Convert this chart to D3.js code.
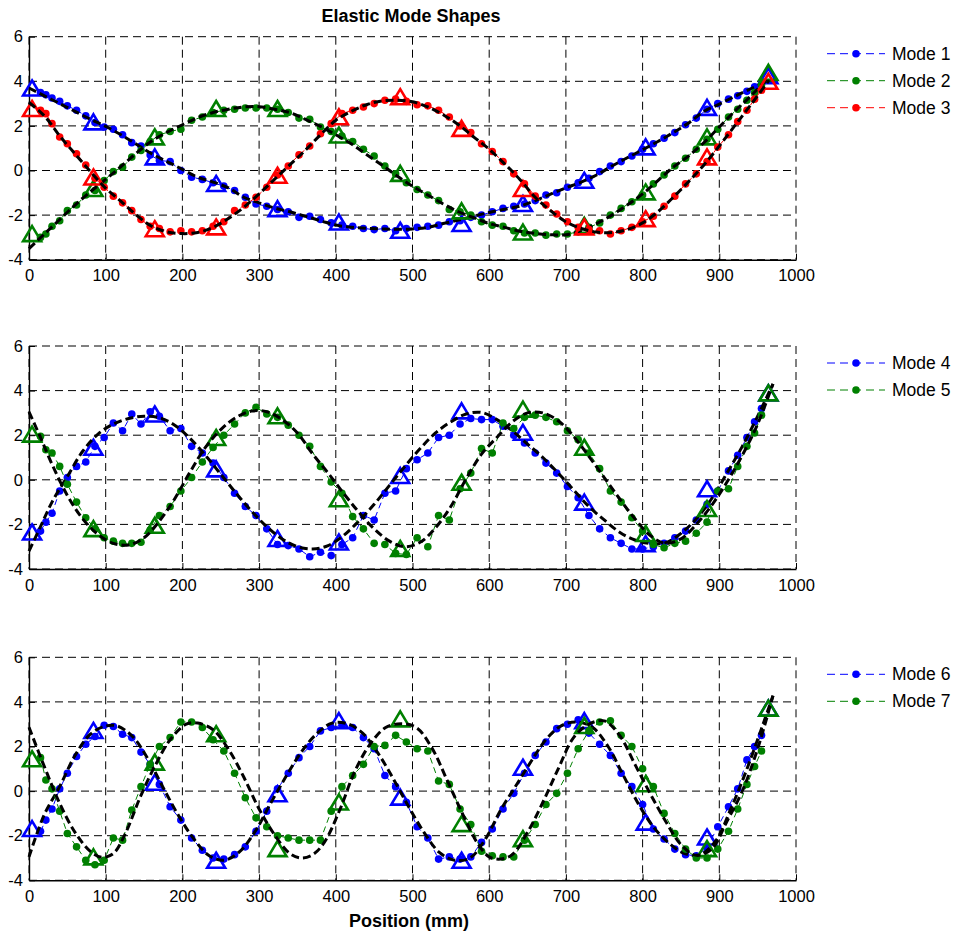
<!DOCTYPE html>
<html><head><meta charset="utf-8">
<script src="https://cdn.jsdelivr.net/npm/d3@7"></script>
<style>
html,body{margin:0;padding:0;background:#fff;}
svg{display:block;font-family:"Liberation Sans",Arial,Helvetica,sans-serif;}
</style></head><body>
<svg id="chart" width="955" height="933"></svg>
<script>
// ---------- DATA ----------
const xTicks = [0,100,200,300,400,500,600,700,800,900,1000];
const yTicks = [-4,-2,0,2,4,6];
const modeNames = ["Mode 1","Mode 2","Mode 3","Mode 4","Mode 5","Mode 6","Mode 7"];

// measured sensor positions (mm)
const dotX = [15,22,30,40,50,62,74,86,98,110,
 122,134,146,158,170,184,198,212,226,240,
 254,268,282,296,310,324,338,352,366,380,
 394,408,422,436,450,464,478,492,506,520,
 534,548,562,576,590,604,618,632,646,660,
 674,688,702,716,730,744,758,772,786,800,
 814,828,842,856,870,884,898,912,924,936,
 946,955];

// measured values
const dots1 = [3.5,3.4,3.25,3.1,2.9,2.7,2.45,2.15,1.95,1.85,
 1.6,1.25,1.1,0.7,0.45,0.4,0.0,-0.3,-0.4,-0.55,
 -0.7,-0.9,-1.2,-1.5,-1.6,-1.75,-1.85,-2.1,-2.05,-2.2,
 -2.35,-2.45,-2.5,-2.6,-2.65,-2.6,-2.7,-2.6,-2.55,-2.5,
 -2.45,-2.3,-2.25,-2.1,-2.0,-1.85,-1.7,-1.6,-1.5,-1.35,
 -1.1,-1.0,-0.75,-0.55,-0.35,-0.05,0.2,0.4,0.65,0.95,
 1.2,1.45,1.7,2.05,2.35,2.75,3.0,3.2,3.35,3.55,
 3.75,3.9];
const dots2 = [-3.0,-2.85,-2.5,-2.25,-1.8,-1.55,-1.1,-0.9,-0.45,-0.05,
 0.15,0.6,0.9,1.3,1.6,1.75,1.85,2.25,2.4,2.6,
 2.7,2.75,2.8,2.8,2.8,2.75,2.6,2.35,2.3,1.95,
 1.75,1.55,1.3,0.95,0.65,0.2,-0.15,-0.55,-0.85,-1.1,
 -1.35,-1.75,-1.85,-2.0,-2.3,-2.45,-2.5,-2.7,-2.8,-2.8,
 -2.9,-2.85,-2.85,-2.75,-2.55,-2.35,-2.0,-1.7,-1.4,-1.1,
 -0.6,-0.2,0.2,0.55,0.95,1.4,1.85,2.4,2.75,3.15,
 3.5,3.85];
const dots3 = [2.7,2.55,2.1,1.5,1.2,0.75,0.25,-0.35,-0.75,-1.15,
 -1.45,-1.8,-2.2,-2.5,-2.6,-2.75,-2.7,-2.75,-2.7,-2.5,
 -2.3,-1.8,-1.55,-1.2,-0.75,-0.2,0.2,0.7,1.1,1.65,
 2.1,2.55,2.7,2.85,3.0,3.15,3.2,3.1,2.95,2.9,
 2.7,2.4,2.0,1.7,1.2,0.85,0.4,-0.15,-0.6,-1.15,
 -1.55,-1.95,-2.3,-2.55,-2.65,-2.7,-2.85,-2.7,-2.55,-2.3,
 -2.05,-1.6,-1.15,-0.6,-0.15,0.4,1.05,1.6,2.2,2.7,
 3.2,3.6];
const dots4 = [-2.3,-1.9,-1.5,-0.5,0.1,0.6,0.8,1.5,1.9,2.55,
 2.2,2.95,2.5,3.05,2.85,2.2,2.3,1.5,1.2,0.75,
 0.1,-0.6,-1.2,-1.6,-2.2,-2.9,-2.95,-3.1,-3.45,-3.25,
 -3.4,-2.9,-2.6,-1.6,-1.8,-0.6,-0.5,0.5,0.9,1.2,
 1.9,2.0,2.5,2.75,2.7,2.7,2.4,2.0,1.65,1.2,
 0.75,0.3,-0.3,-0.8,-1.6,-2.2,-2.6,-2.85,-3.1,-3.1,
 -3.0,-2.85,-2.6,-2.3,-1.8,-1.1,-0.5,0.4,1.1,1.9,
 2.6,3.2];
const dots5 = [1.95,1.35,1.2,0.6,-0.2,-1.0,-1.7,-2.2,-2.6,-2.75,
 -2.85,-2.85,-2.8,-2.25,-1.6,-1.2,-0.5,0.1,0.8,1.45,
 2.0,2.5,3.0,3.25,2.95,2.8,2.45,2.0,1.5,0.6,
 -0.1,-0.6,-1.65,-2.2,-2.85,-2.9,-3.3,-3.35,-2.6,-3.0,
 -1.6,-1.8,-0.4,0.3,1.4,1.2,2.55,2.3,2.8,2.9,
 2.8,2.6,2.2,1.8,1.2,0.5,-0.5,-1.0,-1.7,-2.3,
 -2.9,-3.05,-2.85,-2.75,-2.4,-1.9,-0.5,-0.4,0.6,1.5,
 2.1,2.9];
const dots6 = [-1.8,-1.3,-0.8,0.1,0.8,1.55,2.1,2.45,2.95,2.9,
 2.55,2.4,1.75,1.2,0.3,-0.7,-1.3,-2.1,-2.65,-3.0,
 -3.05,-2.85,-2.5,-1.8,-0.9,0.1,0.8,1.5,2.0,2.7,
 2.85,2.95,2.85,2.4,1.9,0.7,0.2,-0.5,-1.6,-2.1,
 -3.05,-2.95,-3.05,-2.95,-2.3,-1.7,-0.8,-0.1,0.8,1.6,
 2.2,2.8,3.0,3.2,2.6,2.1,1.6,0.8,0.2,-0.6,
 -1.7,-2.15,-2.6,-2.85,-2.9,-2.55,-1.6,-0.7,0.1,1.4,
 2.0,2.5];
const dots7 = [1.5,0.5,0.1,-0.9,-1.9,-2.5,-3.1,-3.3,-3.1,-2.1,
 -2.2,-0.85,0.2,1.2,2.0,2.4,3.1,3.1,2.85,2.3,
 1.8,0.8,-0.3,-1.2,-1.6,-2.0,-2.1,-2.2,-2.2,-2.2,
 -0.9,0.2,0.7,1.2,2.0,2.05,2.5,2.2,1.9,1.8,
 0.45,0.3,-0.8,-1.5,-2.7,-2.9,-2.95,-2.95,-2.2,-1.5,
 -0.6,-0.1,0.8,1.9,2.7,3.1,3.15,2.5,2.0,1.0,
 0.2,-1.0,-1.9,-2.6,-3.0,-3.0,-2.6,-1.8,-0.8,0.3,
 1.1,1.8];

// triangle (reference) positions and values
const triX = [4,84,164,244,324,404,484,564,644,724,804,884,964];
const tri1 = [3.7,2.18,0.61,-0.58,-1.71,-2.31,-2.68,-2.38,-1.48,-0.44,1.06,2.83,4.25];
const tri2 = [-2.83,-0.81,1.51,2.78,2.78,1.59,-0.13,-1.81,-2.76,-2.46,-0.96,1.51,4.4];
const tri3 = [2.78,-0.29,-2.61,-2.53,-0.21,2.41,3.31,1.89,-0.81,-2.53,-2.16,0.61,4.0];
const tri4 = [-2.34,1.46,2.95,0.49,-2.63,-2.79,0.19,3.09,2.13,-1.0,-2.86,-0.4,3.9];
const tri5 = [2.05,-2.19,-2.04,1.9,2.87,-0.85,-3.08,-0.11,3.17,1.46,-2.41,-1.29,3.9];
const tri6 = [-1.68,2.72,0.4,-3.1,-0.12,3.16,-0.27,-3.1,1.07,3.16,-1.39,-2.06,3.72];
const tri7 = [1.45,-2.95,1.3,2.57,-2.58,-0.49,3.24,-1.46,-2.13,2.94,0.33,-2.58,3.72];

// fitted (analytical) mode shapes
const fitXTop = [0,20,40,60,80,100,120,140,160,180,200,220,240,260,280,300,320,340,360,380,
 400,420,440,460,480,500,520,540,560,580,600,620,640,660,680,700,720,740,760,780,
 800,820,840,860,880,900,920,940,965];
const fit1 = [3.7,3.35,3.0,2.65,2.3,1.98,1.6,1.18,0.75,0.4,
 0.05,-0.3,-0.52,-0.78,-1.2,-1.45,-1.68,-1.85,-2.05,-2.25,
 -2.45,-2.54,-2.59,-2.62,-2.64,-2.62,-2.55,-2.38,-2.22,-2.05,
 -1.88,-1.74,-1.6,-1.35,-1.06,-0.78,-0.52,-0.2,0.2,0.57,
 0.93,1.3,1.7,2.13,2.65,2.98,3.32,3.65,4.05];
const fit2 = [-3.5,-2.85,-2.2,-1.55,-0.95,-0.4,0.18,0.78,1.32,1.72,
 2.05,2.37,2.6,2.75,2.85,2.86,2.75,2.6,2.3,1.98,
 1.6,1.2,0.72,0.25,-0.25,-0.7,-1.1,-1.5,-1.85,-2.12,
 -2.38,-2.55,-2.72,-2.82,-2.88,-2.88,-2.7,-2.38,-2.0,-1.55,
 -1.05,-0.45,0.15,0.65,1.25,1.95,2.65,3.3,4.2];
const fit3 = [3.05,2.45,1.55,0.75,-0.05,-0.8,-1.38,-2.0,-2.5,-2.75,
 -2.83,-2.78,-2.55,-2.15,-1.65,-1.05,-0.4,0.25,0.9,1.6,
 2.25,2.65,2.95,3.12,3.15,3.08,2.85,2.5,2.05,1.5,
 0.95,0.3,-0.4,-1.2,-1.8,-2.3,-2.6,-2.76,-2.78,-2.65,
 -2.35,-1.85,-1.2,-0.5,0.25,1.1,2.0,2.9,4.05];
const fitXMid = [0,15,30,50,70,90,110,130,150,170,190,210,230,250,270,290,310,330,350,370,
 390,410,430,450,470,490,510,530,550,570,590,610,630,650,670,690,710,730,750,770,
 790,810,830,850,870,890,910,930,950,970];
const fit4 = [-3.2,-2.1,-1.0,0.15,1.28,2.05,2.5,2.75,2.85,2.78,
 2.45,1.85,1.1,0.25,-0.6,-1.4,-2.1,-2.65,-3.0,-3.1,
 -2.95,-2.5,-1.85,-1.1,-0.25,0.6,1.4,2.1,2.6,2.95,
 3.02,2.7,2.2,1.6,1.0,0.3,-0.45,-1.2,-1.8,-2.35,
 -2.7,-2.85,-2.82,-2.4,-1.75,-0.85,0.3,1.5,2.85,4.3];
const fit5 = [3.05,1.9,0.7,-0.7,-1.75,-2.45,-2.85,-2.92,-2.6,-1.85,
 -0.85,0.35,1.45,2.25,2.8,3.08,3.05,2.7,2.1,1.15,
 0.3,-0.6,-1.45,-2.2,-2.75,-3.0,-2.8,-2.15,-1.2,0.05,
 1.15,1.9,2.6,3.0,3.0,2.65,1.95,1.05,0.1,-0.85,
 -1.75,-2.5,-2.85,-2.65,-2.0,-1.15,-0.1,1.1,2.5,4.3];
const fitX6 = [0,20,40,60,80,100,115,135,155,175,195,215,235,255,275,295,315,335,355,375,
 395,415,435,455,475,495,515,535,555,575,595,615,635,655,675,695,715,735,755,775,
 795,815,835,855,875,895,915,935,955,970];
const fit6 = [-2.95,-1.05,0.2,1.6,2.55,2.92,2.92,2.45,1.45,0.15,
 -1.1,-2.15,-2.9,-3.1,-2.7,-1.8,-0.55,0.65,1.75,2.57,
 3.05,3.02,2.6,1.7,0.55,-0.7,-1.85,-2.75,-3.1,-3.0,
 -2.15,-0.85,0.25,1.35,2.35,2.95,3.1,2.85,2.0,0.7,
 -0.6,-1.65,-2.35,-2.8,-2.85,-2.25,-0.8,0.9,2.8,4.28];
const fitX7 = [0,20,40,60,80,95,110,125,145,165,185,205,220,240,260,280,300,320,340,355,
 370,385,405,425,445,465,485,505,525,545,565,585,600,615,630,650,670,690,710,730,
 750,770,790,810,830,850,870,890,910,930,950,970];
const fit7 = [2.86,1.1,-0.55,-1.85,-2.7,-2.97,-2.8,-1.95,-0.27,1.18,
 2.35,3.0,3.05,2.75,1.88,0.63,-0.8,-1.95,-2.8,-3.0,
 -2.85,-2.3,-0.86,0.9,2.12,2.85,3.02,2.85,1.95,0.5,
 -1.0,-2.35,-2.95,-3.05,-2.85,-1.85,-0.5,1.0,2.4,3.0,
 3.15,2.5,1.2,-0.12,-1.35,-2.4,-2.88,-2.6,-1.35,0.0,
 1.9,4.28];

// ---------- DRAWING ----------
const FONT = '"Liberation Sans", Arial, Helvetica, sans-serif';
const BLUE = '#0000ff', GREEN = '#008000', RED = '#ff0000';
const svg = d3.select('#chart');
svg.append('rect').attr('width', 955).attr('height', 933).attr('fill', '#fff');

const x = d3.scaleLinear().domain([0, 1000]).range([29, 796]);
const panelH = 223;

const panels = [
  { top: 36.7, modes: [
    { name: modeNames[0], color: BLUE,  fx: fitXTop, fy: fit1, dy: dots1, ty: tri1 },
    { name: modeNames[1], color: GREEN, fx: fitXTop, fy: fit2, dy: dots2, ty: tri2 },
    { name: modeNames[2], color: RED,   fx: fitXTop, fy: fit3, dy: dots3, ty: tri3 } ] },
  { top: 346, modes: [
    { name: modeNames[3], color: BLUE,  fx: fitXMid, fy: fit4, dy: dots4, ty: tri4 },
    { name: modeNames[4], color: GREEN, fx: fitXMid, fy: fit5, dy: dots5, ty: tri5 } ] },
  { top: 657.3, modes: [
    { name: modeNames[5], color: BLUE,  fx: fitX6, fy: fit6, dy: dots6, ty: tri6 },
    { name: modeNames[6], color: GREEN, fx: fitX7, fy: fit7, dy: dots7, ty: tri7 } ] }
];

const triPath = 'M0,-7.5L9,7.5L-9,7.5Z';
const DOT_R = 3.8;

panels.forEach(p => {
  const y = d3.scaleLinear().domain([-4, 6]).range([p.top + panelH, p.top]);
  const g = svg.append('g');

  // grid
  g.append('g').selectAll('line').data(yTicks).join('line')
    .attr('x1', x(0)).attr('x2', x(1000))
    .attr('y1', d => y(d)).attr('y2', d => y(d))
    .attr('stroke', '#000').attr('stroke-width', 1).attr('stroke-dasharray', '8,5');
  g.append('g').selectAll('line').data(xTicks).join('line')
    .attr('y1', y(6)).attr('y2', y(-4))
    .attr('x1', d => x(d)).attr('x2', d => x(d))
    .attr('stroke', '#000').attr('stroke-width', 1).attr('stroke-dasharray', '8,5');

  // axes
  const ya = d3.axisLeft(y).tickValues(yTicks).tickSizeInner(-6).tickSizeOuter(0)
    .tickPadding(6).tickFormat(d => String(d));
  const yg = g.append('g').attr('transform', `translate(${x(0)},0)`).call(ya);
  const xa = d3.axisBottom(x).tickValues(xTicks).tickSizeInner(-6).tickSizeOuter(0)
    .tickPadding(10).tickFormat(d => String(d));
  const xg = g.append('g').attr('transform', `translate(0,${y(-4)})`).call(xa);
  [yg, xg].forEach(a => {
    a.attr('font-family', FONT).attr('font-size', 16.5);
    a.selectAll('text').attr('fill', '#000');
    a.selectAll('line').attr('stroke', '#000');
    a.select('.domain').attr('stroke', '#000').attr('stroke-width', 1.4);
  });

  // modes
  p.modes.forEach(m => {
    const mg = g.append('g');
    const meas = dotX.map((xv, i) => [xv, m.dy[i]]);
    mg.append('path').datum(meas)
      .attr('d', d3.line().x(d => x(d[0])).y(d => y(d[1])))
      .attr('fill', 'none').attr('stroke', m.color).attr('stroke-width', 1)
      .attr('stroke-dasharray', '6,4');
    mg.append('g').selectAll('circle').data(meas).join('circle')
      .attr('cx', d => x(d[0])).attr('cy', d => y(d[1])).attr('r', DOT_R)
      .attr('fill', m.color);
    const tris = triX.map((xv, i) => [xv, m.ty[i]]);
    mg.append('g').selectAll('path').data(tris).join('path')
      .attr('d', triPath)
      .attr('transform', d => `translate(${x(d[0])},${y(d[1])})`)
      .attr('fill', 'none').attr('stroke', m.color).attr('stroke-width', 2.6)
      .attr('stroke-linejoin', 'miter');
    const fit = m.fx.map((xv, i) => [xv, m.fy[i]]);
    mg.append('path').datum(fit)
      .attr('d', d3.line().curve(d3.curveCatmullRom.alpha(0.5)).x(d => x(d[0])).y(d => y(d[1])))
      .attr('fill', 'none').attr('stroke', '#000').attr('stroke-width', 3)
      .attr('stroke-dasharray', '8,4');
  });

  // legend
  p.modes.forEach((m, i) => {
    const ly = p.top + 17 + i * 27;
    const lg = svg.append('g');
    lg.append('line').attr('x1', 827).attr('x2', 885).attr('y1', ly).attr('y2', ly)
      .attr('stroke', m.color).attr('stroke-width', 1).attr('stroke-dasharray', '8,5');
    lg.append('circle').attr('cx', 856).attr('cy', ly).attr('r', DOT_R).attr('fill', m.color);
    lg.append('text').attr('x', 892).attr('y', ly).attr('dy', '0.35em')
      .attr('font-family', FONT).attr('font-size', 17.5).attr('fill', '#000').text(m.name);
  });
});

// titles
svg.append('text').attr('x', 411).attr('y', 22).attr('text-anchor', 'middle')
  .attr('font-family', FONT).attr('font-size', 18).attr('font-weight', 'bold')
  .attr('fill', '#000').text('Elastic Mode Shapes');
svg.append('text').attr('x', 409).attr('y', 926.5).attr('text-anchor', 'middle')
  .attr('font-family', FONT).attr('font-size', 18).attr('font-weight', 'bold')
  .attr('fill', '#000').text('Position (mm)');
</script>
</body></html>
